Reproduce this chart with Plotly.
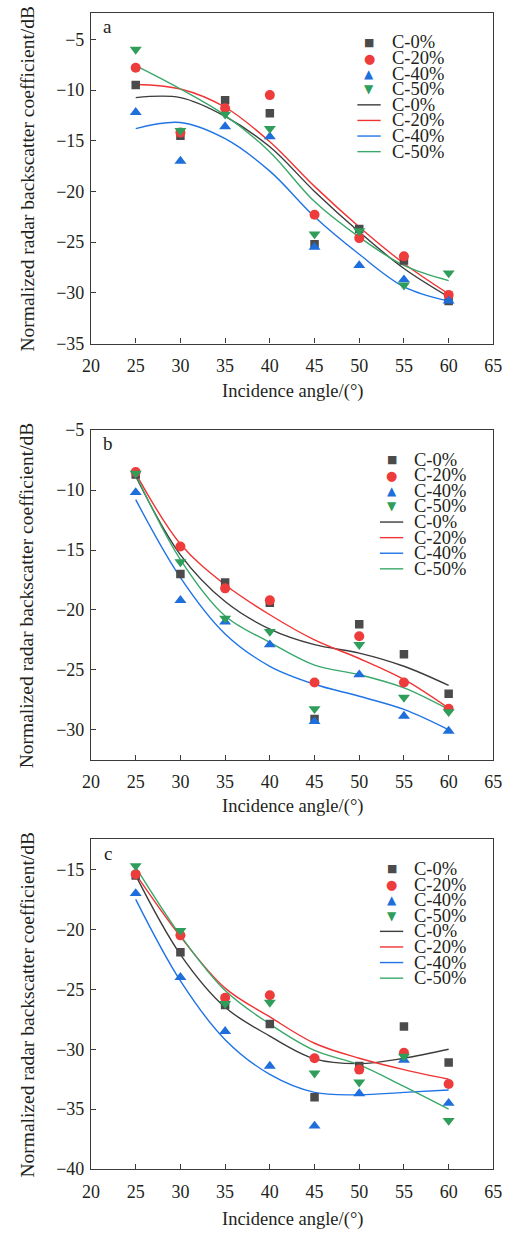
import plotly.graph_objects as go

# ---------------- data ----------------
angles = [25, 30, 35, 40, 45, 50, 55, 60]
series_names = ["C-0%", "C-20%", "C-40%", "C-50%"]

# panel a : measured points
a_c0 = [-9.5, -14.5, -11.0, -12.3, -25.2, -23.7, -26.8, -30.8]
a_c20 = [-7.8, -14.2, -11.8, -10.5, -22.3, -24.6, -26.4, -30.2]
a_c40 = [-12.2, -17.0, -13.6, -14.6, -25.5, -27.3, -28.7, -30.8]
a_c50 = [-6.0, -14.0, -12.4, -13.8, -24.2, -23.9, -29.25, -28.05]
# panel a : fitted curves
a_fit_angles = [25, 30, 35, 40, 45, 50, 55, 60]
a_fit_c0 = [-10.75, -10.75, -12.6, -15.6, -20.0, -24.0, -27.6, -30.4]
a_fit_c20 = [-9.45, -9.9, -11.7, -15.1, -19.5, -23.5, -27.1, -30.1]
a_fit_c40 = [-13.8, -13.2, -14.8, -18.0, -22.5, -26.2, -29.4, -30.8]
a_fit_c50 = [-7.6, -9.9, -12.5, -16.1, -21.0, -24.5, -27.3, -28.8]

# panel b : measured points
b_c0 = [-8.7, -17.0, -17.7, -19.4, -29.1, -21.2, -23.7, -27.0]
b_c20 = [-8.5, -14.7, -18.2, -19.2, -26.05, -22.2, -26.05, -28.25]
b_c40 = [-10.2, -19.2, -21.0, -22.9, -29.3, -25.4, -28.85, -30.1]
b_c50 = [-8.6, -16.0, -20.7, -21.8, -28.25, -22.9, -27.3, -28.5]
# panel b : fitted curves
b_fit_angles = [25, 30, 35, 40, 45, 50, 55, 60]
b_fit_c0 = [-8.85, -15.4, -19.3, -21.6, -22.9, -23.6, -24.7, -26.3]
b_fit_c20 = [-8.6, -14.5, -17.9, -20.4, -22.5, -24.05, -25.8, -28.2]
b_fit_c40 = [-10.8, -17.3, -22.0, -24.7, -26.2, -27.2, -28.3, -30.0]
b_fit_c50 = [-8.7, -15.8, -20.5, -22.7, -24.6, -25.4, -26.5, -28.3]

# panel c : measured points
c_c0 = [-15.5, -21.9, -26.3, -27.9, -34.0, -31.4, -28.1, -31.1]
c_c20 = [-15.4, -20.5, -25.7, -25.5, -30.75, -31.7, -30.3, -32.9]
c_c40 = [-17.0, -24.0, -28.5, -31.4, -36.4, -33.7, -30.9, -34.5]
c_c50 = [-14.7, -20.1, -26.2, -26.1, -32.0, -32.75, -30.6, -35.95]
# panel c : fitted curves
c_fit_angles = [25, 30, 35, 40, 45, 50, 55, 60]
c_fit_c0 = [-15.5, -22.1, -26.5, -28.9, -30.8, -31.2, -30.75, -30.0]
c_fit_c20 = [-15.4, -20.6, -24.9, -27.3, -29.5, -30.75, -31.7, -32.5]
c_fit_c40 = [-17.5, -24.3, -29.2, -32.1, -33.6, -33.8, -33.6, -33.4]
c_fit_c50 = [-14.8, -20.5, -25.1, -27.9, -30.1, -31.3, -33.1, -35.0]

x_ticks = [20, 25, 30, 35, 40, 45, 50, 55, 60, 65]
a_y_ticks = [-35, -30, -25, -20, -15, -10, -5]
b_y_ticks = [-30, -25, -20, -15, -10, -5]
c_y_ticks = [-40, -35, -30, -25, -20, -15]

# ---------------- style ----------------
FONT = "Liberation Serif"
TXT = "#231f20"
AX = "#3a3a3a"
marker_colors = ["#4b4b4b", "#ee3b3b", "#1e6fdc", "#2e9e5a"]
line_colors = ["#3c3c3c", "#f03434", "#1f74e6", "#3aa86a"]
symbols = ["square", "circle", "triangle-up", "triangle-down"]
marker_sizes = [8.5, 10, 10.5, 10.5]
legend_glyphs = ["\u25A0", "\u25CF", "\u25B2", "\u25BC"]
legend_glyph_sizes = [11, 13, 12, 12]

W, H = 512, 1246
x_dom = [85 / W, 502 / W]
panels = [
    dict(label="a", pts=[a_c0, a_c20, a_c40, a_c50], fx=a_fit_angles,
         fits=[a_fit_c0, a_fit_c20, a_fit_c40, a_fit_c50],
         yr=[-35, -2.4], yt=a_y_ticks, top=3, bot=339, leg_x=0.691, title_y=388),
    dict(label="b", pts=[b_c0, b_c20, b_c40, b_c50], fx=b_fit_angles,
         fits=[b_fit_c0, b_fit_c20, b_fit_c40, b_fit_c50],
         yr=[-32.5, -5.0], yt=b_y_ticks, top=427, bot=762, leg_x=0.747, title_y=810),
    dict(label="c", pts=[c_c0, c_c20, c_c40, c_c50], fx=c_fit_angles,
         fits=[c_fit_c0, c_fit_c20, c_fit_c40, c_fit_c50],
         yr=[-40, -12.5], yt=c_y_ticks, top=843, bot=1178, leg_x=0.747, title_y=1229),
]

fig = go.Figure()
annotations = []
shapes = []
layout_axes = {}

for i, p in enumerate(panels):
    sfx = "" if i == 0 else str(i + 1)
    xref, yref = "x" + sfx, "y" + sfx
    # fitted lines
    for k in range(4):
        fig.add_trace(go.Scatter(
            x=p["fx"], y=p["fits"][k], mode="lines", name=series_names[k],
            line=dict(color=line_colors[k], width=1.4, shape="spline", smoothing=1.0),
            xaxis=xref, yaxis=yref, showlegend=False, hoverinfo="skip"))
    # measured points
    for k in range(4):
        fig.add_trace(go.Scatter(
            x=angles, y=p["pts"][k], mode="markers", name=series_names[k],
            marker=dict(symbol=symbols[k], size=marker_sizes[k], color=marker_colors[k],
                        line=dict(width=0)),
            xaxis=xref, yaxis=yref, showlegend=False))

    y_dom = [1 - p["bot"] / H, 1 - p["top"] / H]
    common = dict(showline=True, linecolor=AX, linewidth=1.2, mirror=True,
                  ticks="inside", ticklen=5, tickwidth=1.2, tickcolor=AX,
                  showgrid=False, zeroline=False,
                  tickfont=dict(family=FONT, size=18, color=TXT))
    layout_axes["xaxis" + sfx] = dict(common, domain=x_dom, range=[20, 65],
                                      tickvals=x_ticks, anchor=yref,
                                      ticklabelstandoff=6)
    layout_axes["yaxis" + sfx] = dict(common, domain=y_dom, range=p["yr"],
                                      tickvals=p["yt"], anchor=xref,
                                      ticklabelstandoff=2)

    xd, yd = xref + " domain", yref + " domain"
    # panel label
    annotations.append(dict(text=p["label"], x=0.042, y=0.958, xref=xd, yref=yd,
                            showarrow=False, xanchor="center", yanchor="middle",
                            font=dict(family=FONT, size=19, color=TXT)))
    # legend
    h = p["bot"] - p["top"]
    row_step = 15.85 / h
    y0 = 1 - 30 / h
    lx = p["leg_x"]
    for k in range(8):
        yy = y0 - k * row_step
        if k < 4:
            annotations.append(dict(text=legend_glyphs[k], x=lx, y=yy, xref=xd, yref=yd,
                                    showarrow=False, xanchor="center", yanchor="middle",
                                    font=dict(family="DejaVu Sans", size=legend_glyph_sizes[k],
                                              color=marker_colors[k])))
        else:
            shapes.append(dict(type="line", xref=xd, yref=yd, x0=lx - 0.029, x1=lx + 0.029,
                               y0=yy, y1=yy, line=dict(color=line_colors[k - 4], width=1.4)))
        annotations.append(dict(text=series_names[k % 4], x=lx + 0.052, y=yy, xref=xd, yref=yd,
                                showarrow=False, xanchor="left", yanchor="middle",
                                font=dict(family=FONT, size=18.5, color=TXT)))
    # axis titles
    annotations.append(dict(text="Incidence angle/(\u00b0)", x=(x_dom[0] + x_dom[1]) / 2,
                            y=1 - p["title_y"] / H, xref="paper", yref="paper",
                            showarrow=False, xanchor="center", yanchor="middle",
                            font=dict(family=FONT, size=18.5, color=TXT)))
    annotations.append(dict(text="Normalized radar backscatter coefficient/dB", x=19 / W,
                            y=(y_dom[0] + y_dom[1]) / 2, xref="paper", yref="paper",
                            showarrow=False, xanchor="center", yanchor="middle", textangle=-90,
                            font=dict(family=FONT, size=19.5, color=TXT)))

fig.update_layout(
    width=W, height=H, margin=dict(l=0, r=0, t=0, b=0),
    paper_bgcolor="white", plot_bgcolor="white",
    showlegend=False, annotations=annotations, shapes=shapes,
    **layout_axes)

fig.write_html(
    "out.html",
    config={"displayModeBar": False},
    post_script="document.body.style.margin='0';document.body.style.overflow='hidden';",
)
